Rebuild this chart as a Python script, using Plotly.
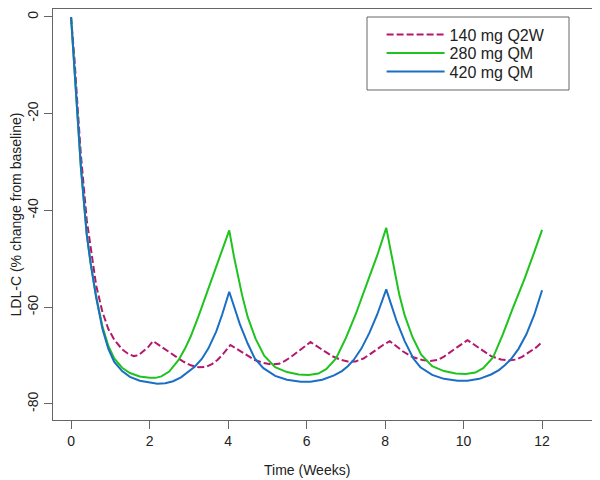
import plotly.graph_objects as go

# ---- data ----
t_q2w = [0, 0.09, 0.17, 0.25, 0.4, 0.5, 0.64, 0.8, 0.95, 1.1, 1.3, 1.45, 1.6, 1.72, 1.85, 1.97, 2.09,
         2.2, 2.4, 2.62, 2.85, 3.05, 3.25, 3.45, 3.6, 3.73, 3.88, 4.06,
         4.2, 4.45, 4.68, 4.9, 5.1, 5.3, 5.45, 5.6, 5.8, 5.95, 6.1,
         6.25, 6.45, 6.65, 6.85, 7.05, 7.25, 7.45, 7.6, 7.8, 7.95, 8.12,
         8.25, 8.45, 8.7, 8.95, 9.15, 9.35, 9.5, 9.65, 9.85, 10.1,
         10.25, 10.45, 10.7, 10.95, 11.15, 11.35, 11.5, 11.65, 11.85, 12.0]
v_q2w = [0, -9, -19, -28.5, -42, -48, -55.5, -61, -64.5, -66.7, -68.7, -69.6, -70.1, -69.9, -69.1, -68.2, -67.0,
         -67.6, -68.8, -69.9, -71.2, -72.0, -72.4, -72.3, -71.7, -70.9, -69.6, -67.8,
         -68.5, -69.8, -70.9, -71.5, -71.8, -71.7, -71.1, -70.3, -69.1, -68.2, -67.2,
         -68.0, -69.0, -70.1, -70.8, -71.2, -71.2, -70.6, -69.8, -68.6, -67.8, -67.0,
         -67.8, -69.1, -70.3, -70.9, -71.1, -70.9, -70.2, -69.4, -68.2, -66.8,
         -67.6, -68.8, -70.1, -70.8, -71.0, -70.8, -70.2, -69.4, -68.3, -67.2]

t_280 = [0, 0.09, 0.17, 0.25, 0.4, 0.5, 0.64, 0.8, 0.95, 1.1, 1.3, 1.5, 1.75, 2.0, 2.15, 2.3, 2.5, 2.74,
         2.9, 3.05, 3.25, 3.57, 3.8, 4.03, 4.15, 4.28, 4.36, 4.5, 4.7, 4.92, 5.2, 5.5, 5.8, 6.05, 6.3,
         6.5, 6.75, 7.0, 7.25, 7.55, 7.8, 8.03, 8.15, 8.28, 8.36, 8.5, 8.7, 8.92, 9.2, 9.5, 9.8, 10.05,
         10.3, 10.5, 10.75, 11.0, 11.25, 11.55, 11.8, 12.0]
v_280 = [0, -10.5, -21, -31, -45, -51, -57.8, -64, -68, -70.6, -72.5, -73.6, -74.3, -74.6, -74.6, -74.3, -73.3, -70.9,
         -68.6, -66.0, -61.8, -54.4, -49.4, -44.1, -49.5, -54.4, -57.6, -62, -66.5, -70.0, -72.4, -73.4, -73.9, -74.0, -73.7,
         -72.8, -70.6, -66.4, -61.5, -54.8, -49.3, -43.6, -49, -54, -57.3, -61.7, -66.2, -69.8, -72.2, -73.2, -73.7, -73.8,
         -73.5, -72.6, -70.4, -65.6, -60.3, -54.2, -48.6, -44.0]

t_420 = [0, 0.09, 0.17, 0.25, 0.4, 0.5, 0.64, 0.8, 0.95, 1.1, 1.3, 1.5, 1.75, 2.0, 2.2, 2.4, 2.6, 2.8, 3.0,
         3.15, 3.33, 3.5, 3.7, 3.85, 4.03, 4.15, 4.3, 4.5, 4.68, 4.9, 5.2, 5.5, 5.85, 6.1, 6.4, 6.7, 6.9,
         7.05, 7.2, 7.4, 7.6, 7.8, 8.03, 8.15, 8.3, 8.5, 8.72, 8.9, 9.2, 9.5, 9.85, 10.1, 10.4, 10.7, 10.9,
         11.05, 11.2, 11.4, 11.6, 11.8, 12.0]
v_420 = [0, -10.5, -21, -31, -45, -51, -58, -64.5, -68.6, -71.3, -73.2, -74.4, -75.2, -75.6, -75.8, -75.7, -75.3, -74.5, -73.3,
         -72.3, -70.7, -68.5, -65, -61.5, -56.8, -59.8, -63.5, -67.5, -70.6, -72.6, -74.2, -75.0, -75.4, -75.4, -75.0, -74.1, -73.2,
         -72.2, -70.9, -68.5, -65.3, -61.5, -56.3, -59.3, -63, -67, -70.6, -72.4, -74.0, -74.8, -75.2, -75.2, -74.8, -73.9, -73.0,
         -72.0, -70.8, -68.6, -65.6, -61.6, -56.5]

x_ticks = [0, 2, 4, 6, 8, 10, 12]
y_ticks = [0, -20, -40, -60, -80]

FONT = "Liberation Sans, Arial, Helvetica, sans-serif"
TXT = "#222222"
AX = "#666666"

# the page body adds an 8px margin, so the figure is sized to fill the rest of the 600x480 window
W, H = 592, 472
ML, MR, MT, MB = 45, 1, 1, 60
PW, PH = W - ML - MR, H - MT - MB


def px_x(px):
    return (px - ML) / PW


def px_y(py):
    return 1 - (py - MT) / PH


fig = go.Figure()
fig.add_trace(go.Scatter(x=t_q2w, y=v_q2w, mode="lines", name="140 mg Q2W", legend="legend",
                         line=dict(color="#B3186E", width=2, dash="7px,3px")))
fig.add_trace(go.Scatter(x=t_280, y=v_280, mode="lines", name="280 mg QM", legend="legend2",
                         line=dict(color="#1EC31E", width=2)))
fig.add_trace(go.Scatter(x=t_420, y=v_420, mode="lines", name="420 mg QM", legend="legend3",
                         line=dict(color="#1A6FC4", width=2)))

axis_common = dict(showgrid=False, zeroline=False, showline=True, linecolor=AX,
                   linewidth=1, mirror=True, ticks="outside", ticklen=8, tickwidth=1,
                   tickcolor=AX, tickfont=dict(family=FONT, size=14, color=TXT))

fig.update_xaxes(range=[-0.46, 13.45], tickvals=x_ticks, ticktext=[str(v) for v in x_ticks],
                 **axis_common)
fig.update_yaxes(range=[-83.31, 1.65], tickvals=y_ticks, ticktext=[str(v) for v in y_ticks], tickangle=-90,
                 title=dict(text="LDL-C (% change from baseline)", font=dict(family=FONT, size=14, color=TXT), standoff=2),
                 **axis_common)

leg_common = dict(x=px_x(373.6), xanchor="left", yanchor="top",
                  font=dict(family=FONT, size=16, color=TXT),
                  bgcolor="rgba(0,0,0,0)", itemwidth=58)

fig.update_layout(
    width=W, height=H,
    margin=dict(l=ML, r=MR, t=MT, b=MB),
    paper_bgcolor="white", plot_bgcolor="white",
    showlegend=True,
    legend=dict(y=px_y(9.5), **leg_common),
    legend2=dict(y=px_y(28), **leg_common),
    legend3=dict(y=px_y(46.5), **leg_common),
    shapes=[dict(type="rect", xref="paper", yref="paper",
                 x0=px_x(359), x1=px_x(561), y0=px_y(82), y1=px_y(9),
                 line=dict(color=AX, width=1))],
    annotations=[dict(text="Time (Weeks)", x=6, xref="x", y=px_y(462), yref="paper",
                      xanchor="center", yanchor="middle", showarrow=False,
                      font=dict(family=FONT, size=14, color=TXT))],
)

fig.write_html("out.html")
